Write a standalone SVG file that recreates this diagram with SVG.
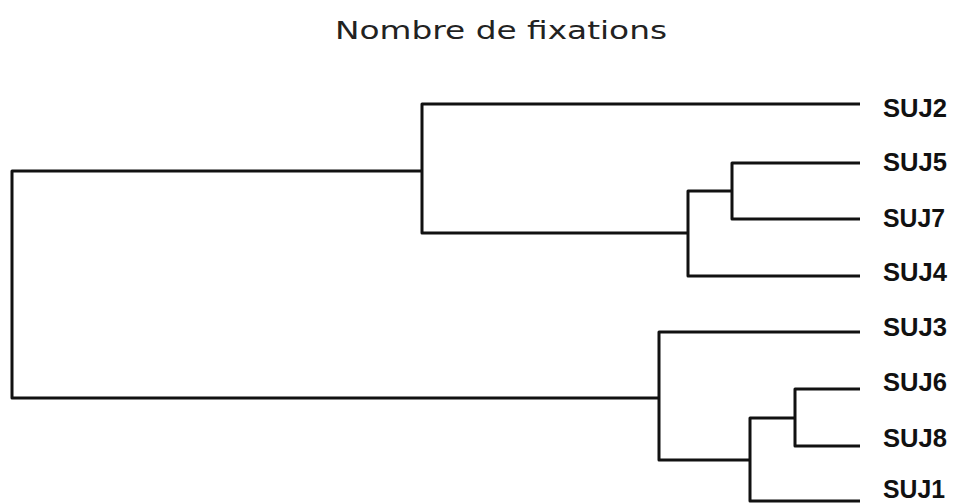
<svg xmlns="http://www.w3.org/2000/svg" width="953" height="504" viewBox="0 0 953 504">
<style>
.br{fill:none;stroke:#111;stroke-width:3;stroke-linejoin:round;stroke-linecap:butt}
.lb{font-family:"Liberation Sans",Arial,sans-serif;font-weight:bold;font-size:26px;fill:#111}
.tt{font-family:"DejaVu Sans","Liberation Sans",sans-serif;font-size:24px;fill:#222}
</style>
<rect width="953" height="504" fill="#fff"/>
<text class="tt" x="335" y="39" textLength="332" lengthAdjust="spacingAndGlyphs">Nombre de fixations</text>
<g id="connectors">
<path class="br" d="M422,171 H12 V398 H659"/>
<path class="br" d="M860,104 H422 V233 H688"/>
<path class="br" d="M732,191 H688 V276 H860"/>
<path class="br" d="M860,163 H732 V219 H860"/>
<path class="br" d="M860,332 H659 V460 H750"/>
<path class="br" d="M795,418 H750 V501 H860"/>
<path class="br" d="M860,389 H795 V446 H860"/>
</g>
<g id="SUJ2"><text class="lb" x="883" y="117" textLength="64" lengthAdjust="spacingAndGlyphs">SUJ2</text></g>
<g id="SUJ5"><text class="lb" x="883" y="171" textLength="64" lengthAdjust="spacingAndGlyphs">SUJ5</text></g>
<g id="SUJ7"><text class="lb" x="883" y="227" textLength="62" lengthAdjust="spacingAndGlyphs">SUJ7</text></g>
<g id="SUJ4"><text class="lb" x="883" y="281" textLength="64" lengthAdjust="spacingAndGlyphs">SUJ4</text></g>
<g id="SUJ3"><text class="lb" x="883" y="336" textLength="64" lengthAdjust="spacingAndGlyphs">SUJ3</text></g>
<g id="SUJ6"><text class="lb" x="883" y="391" textLength="64" lengthAdjust="spacingAndGlyphs">SUJ6</text></g>
<g id="SUJ8"><text class="lb" x="883" y="447" textLength="64" lengthAdjust="spacingAndGlyphs">SUJ8</text></g>
<g id="SUJ1"><text class="lb" x="883" y="498" textLength="62" lengthAdjust="spacingAndGlyphs">SUJ1</text></g>
</svg>
